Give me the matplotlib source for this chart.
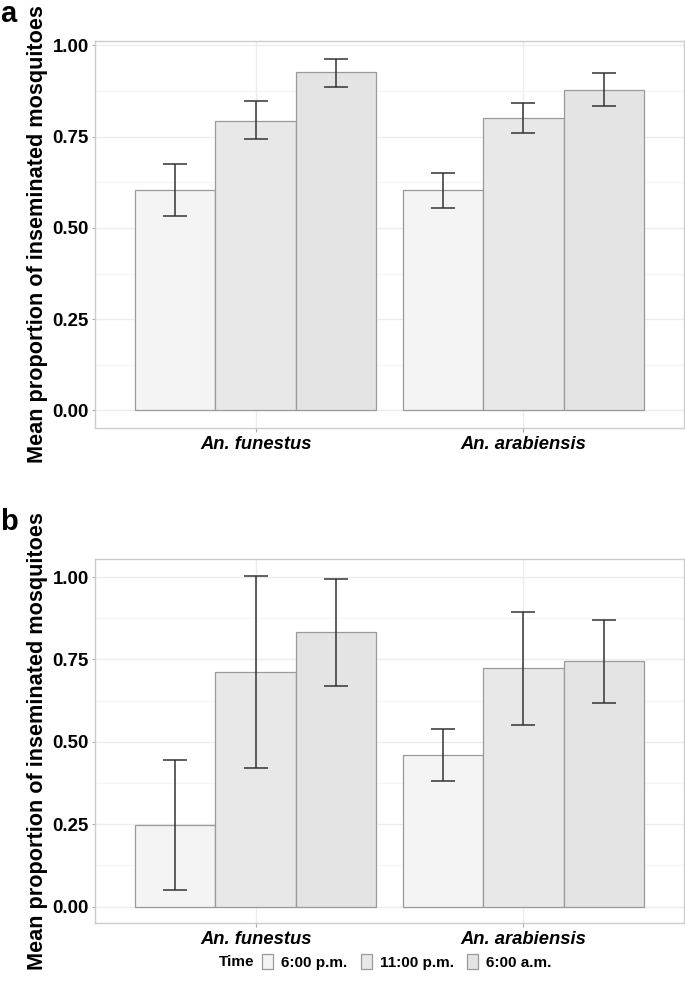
import numpy as np
import matplotlib
matplotlib.use("Agg")
from matplotlib import pyplot as plt
from matplotlib.patches import Patch

plt.rcParams['font.family'] = ['Liberation Sans', 'DejaVu Sans']

species = ['An. funestus', 'An. arabiensis']
times = ['6:00 p.m.', '11:00 p.m.', '6:00 a.m.']

# panel a: mean, lower, upper  (rows = time, cols = species)
a_mean = [[0.605, 0.603], [0.794, 0.802], [0.926, 0.879]]
a_low = [[0.533, 0.555], [0.743, 0.761], [0.887, 0.835]]
a_high = [[0.676, 0.651], [0.847, 0.843], [0.963, 0.924]]

# panel b
b_mean = [[0.249, 0.460], [0.713, 0.723], [0.832, 0.745]]
b_low = [[0.050, 0.381], [0.421, 0.551], [0.669, 0.619]]
b_high = [[0.446, 0.539], [1.004, 0.895], [0.995, 0.869]]

fills = ['#f4f4f4', '#e8e8e8', '#e4e4e4']
edge = '#9a9a9a'

W, H = 685, 981
fig = plt.figure(figsize=(W/100, H/100), dpi=100)

def make_axes(left, top, right, bottom):
    return fig.add_axes([left/W, 1-bottom/H, (right-left)/W, (bottom-top)/H])

def draw_panel(ax, mean, low, high, ylim):
    x = np.arange(1, len(species)+1)
    bw = 0.3
    ax.set_axisbelow(True)
    for i in range(len(times)):
        xs = x + (i-1)*bw
        m = np.array(mean[i])
        ax.bar(xs, m, width=bw, color=fills[i], edgecolor=edge, linewidth=0.9, zorder=2)
        lo = m - np.array(low[i])
        hi = np.array(high[i]) - m
        ax.errorbar(xs, m, yerr=[lo, hi], fmt='none', ecolor='#333333',
                    elinewidth=1.1, capsize=8.5, capthick=1.1, zorder=3)
    ax.set_xlim(0.4, 2.6)
    ax.set_ylim(*ylim)
    ax.set_yticks([0, 0.25, 0.5, 0.75, 1.0])
    ax.set_yticklabels(['0.00', '0.25', '0.50', '0.75', '1.00'])
    ax.set_yticks([0.125, 0.375, 0.625, 0.875], minor=True)
    ax.set_xticks(x)
    ax.set_xticklabels(species, fontstyle='italic', fontweight='bold', fontsize=13.2)
    for lab in ax.get_yticklabels():
        lab.set_fontweight('bold')
        lab.set_fontsize(13.4)
    ax.tick_params(axis='y', which='major', length=2.5, color='#aaaaaa', pad=1.8)
    ax.tick_params(axis='x', which='major', length=3, color='#aaaaaa', pad=2.5)
    ax.tick_params(which='minor', length=0)
    ax.grid(which='major', color='#ececec', linewidth=1.0)
    ax.grid(which='minor', axis='y', color='#f5f5f5', linewidth=1.0)
    for s in ax.spines.values():
        s.set_color('#cccccc')
        s.set_linewidth(1.0)
    ax.set_ylabel('Mean proportion of inseminated mosquitoes', fontweight='bold',
                  fontsize=15.6, labelpad=3.6)

ax1 = make_axes(95, 41, 684, 428)
draw_panel(ax1, a_mean, a_low, a_high, (-0.048, 1.012))
ax2 = make_axes(95, 559, 684, 923)
draw_panel(ax2, b_mean, b_low, b_high, (-0.05, 1.055))

fig.text(0/W, 1-14/H, 'a', fontsize=21, fontweight='bold', va='center', ha='left')
fig.text(0/W, 1-522/H, 'b', fontsize=21, fontweight='bold', va='center', ha='left')

handles = [Patch(facecolor=fills[i], edgecolor=edge, linewidth=0.9) for i in range(3)]
leg = fig.legend(handles, times, loc='center left', bbox_to_anchor=(262/W, 1-962/H),
                 ncol=3, frameon=False, handlelength=0.72, handleheight=1.05,
                 handletextpad=0.55, columnspacing=0.85, prop={'weight': 'bold', 'size': 11},
                 borderaxespad=0, borderpad=0)
fig.text(219/W, 1-962/H, 'Time', fontsize=11, fontweight='bold', va='center', ha='left')

fig.savefig('out.png', dpi=100)
